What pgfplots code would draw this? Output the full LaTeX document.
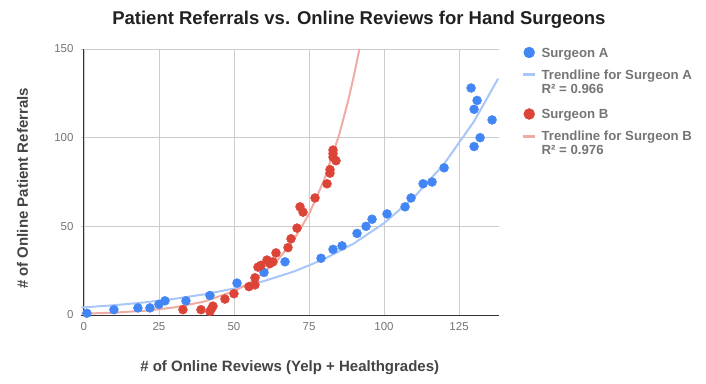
\documentclass[border=0pt]{standalone}
\usepackage{pgfplots}
\pgfplotsset{compat=1.18}
\usepackage{fontspec}
\setmainfont{Liberation Sans}
\definecolor{blueA}{HTML}{4285F4}
\definecolor{redB}{HTML}{DB4437}
\definecolor{blueT}{HTML}{A9C6F8}
\definecolor{redT}{HTML}{F0ABA4}
\definecolor{tickgray}{HTML}{757575}
\definecolor{labgray}{HTML}{444444}
\definecolor{gridgray}{HTML}{CCCCCC}
\newcommand{\legline}[1]{\hbox{\rule[-3.5pt]{0pt}{14pt}#1}}
\newcommand{\leglinetall}[1]{\hbox{\rule[-3.5pt]{0pt}{31.5pt}#1}}
\newcommand{\legtwo}[2]{\vtop{\legline{#1}\legline{#2}}}
\begin{document}
\begin{tikzpicture}[x=1pt,y=1pt]
\useasboundingbox (-81.5,-68) rectangle (624.5,315);
\begin{axis}[
  at={(0,0)}, anchor=south west,
  scale only axis, width=417.5pt, height=266pt,
  xmin=-0.8, xmax=138.3, ymin=0, ymax=150,
  xtick={0,25,...,125}, ytick={0,50,100,150},
  grid=major, grid style={gridgray, line width=0.8pt},
  axis line style={draw=none}, tick style={draw=none},
  extra x ticks={0}, extra x tick labels={},
  extra x tick style={grid style={black!80, line width=1pt}},
  extra y ticks={0}, extra y tick labels={},
  extra y tick style={grid style={black!80, line width=1pt}},
  clip=false,
  /pgf/number format/assume math mode=true,
  ticklabel style={font=\fontsize{11.5}{13}\selectfont, text=tickgray},
  xticklabel style={yshift=-4pt},
  yticklabel style={xshift=-4.5pt},
  title={Patient Referrals vs. Online Reviews for Hand Surgeons},
  title style={at={(axis description cs:0.6644,1.0688)}, anchor=base,
    font=\bfseries\fontsize{18.5}{22}\selectfont, text=black!87},
  xlabel={\# of Online Reviews (Yelp + Healthgrades)},
  ylabel={\# of Online Patient Referrals},
  xlabel style={at={(axis description cs:0.4987,-0.2132)}, anchor=base,
    font=\bfseries\fontsize{15}{18}\selectfont, text=labgray},
  ylabel style={at={(axis description cs:-0.1413,0.4756)}, anchor=center,
    font=\bfseries\fontsize{15}{18}\selectfont, text=labgray},
  legend style={at={(axis description cs:1.0544,1.0094)}, anchor=north west,
    draw=none, fill=none, inner sep=0pt,
    font=\bfseries\fontsize{13.2}{14}\selectfont, text=tickgray,
    row sep=10pt, column sep=5.1pt,
    nodes={inner sep=0pt, anchor=base west},
    cells={inner sep=0pt, anchor=base west}},
]
% trendlines
\addplot[blueT, line width=2pt, forget plot] coordinates {
(-0.8,4.2)(0,4.3)(10,5.51)(20,7.07)(30,9.07)(40,11.63)(50,14.92)(60,19.13)(70,24.54)
(80,31.5)(90,40.4)(100,51.8)(110,66.4)(120,85.2)(130,109.2)(138,133.3)};
\addplot[redT, line width=2pt, forget plot] coordinates {
(-0.8,0.72)(0,0.75)(10,1.34)(20,2.38)(30,4.24)(40,7.55)(50,13.44)(55,17.9)(60,23.9)
(65,31.9)(70,42.6)(75,56.9)(80,76.0)(85,101.4)(88,120.5)(90,135.3)(91.8,150)};
% Surgeon A
\addplot[only marks, mark=*, mark size=4.5pt, blueA, mark options={draw=none, fill=blueA},
  legend image code/.code={\fill[blueA] (5.8pt,4.7pt) circle (5.5pt); \path[draw=none] (0pt,4.7pt) -- (11.6pt,4.7pt);}] coordinates {
(1,1)(10,3)(18,4)(22,4)(25,6)(27,8)(34,8)(42,11)(51,18)(60,24)(67,30)(79,32)(83,37)(86,39)
(91,46)(94,50)(96,54)(101,57)(107,61)(109,66)(113,74)(116,75)(120,83)(129,128)(130,116)
(131,121)(130,95)(132,100)(136,110)};
\addlegendentry{\legline{Surgeon A}}
\addlegendimage{legend image code/.code={\draw[blueT, line width=3pt] (0pt,4.7pt) -- (11.6pt,4.7pt);}}
\addlegendentry{\legtwo{Trendline for Surgeon A}{R² = 0.966}}
% Surgeon B
\addplot[only marks, mark=*, mark size=4.5pt, redB, mark options={draw=none, fill=redB},
  legend image code/.code={\fill[redB] (5.8pt,4.7pt) circle (5.5pt); \path[draw=none] (0pt,4.7pt) -- (11.6pt,4.7pt);}] coordinates {
(33,3)(39,3)(42,2)(42.5,3.5)(43,5)(47,9)(50,12)(55,16)(57,17)(57,21)(58,27)(59,28)(61,31)
(62,29)(63,30)(64,35)(68,38)(69,43)(71,49)(72,61)(73,58)(77,66)(81,74)(82,80)(82,82)
(83,93)(83,91)(83,89)(84,87)};
\addlegendentry{\leglinetall{Surgeon B}}
\addlegendimage{legend image code/.code={\draw[redT, line width=3pt] (0pt,4.7pt) -- (11.6pt,4.7pt);}}
\addlegendentry{\legtwo{Trendline for Surgeon B}{R² = 0.976}}
\end{axis}
\end{tikzpicture}
\end{document}
